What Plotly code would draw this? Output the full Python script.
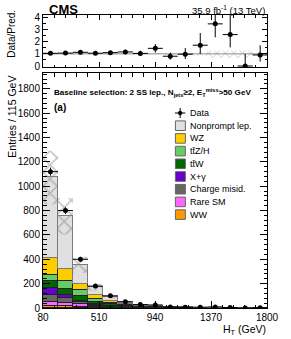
import numpy as np
import plotly.graph_objects as go

# ---------------- data ----------------
bin_lo = [80, 195, 310, 425, 540, 655, 770, 885, 1000, 1115, 1230, 1345, 1460, 1575, 1690]
bin_width = 115

# stacked backgrounds (bottom -> top)
ww        = [17, 14, 10, 6, 3, 2, 1, 0.8, 0.5, 0.3, 0.2, 0.1, 0.05, 0.05, 0.1]
rare_sm   = [33, 30, 20, 10, 6, 3, 2, 1.4, 1.0, 0.7, 0.4, 0.3, 0.2, 0.1, 0.3]
charge    = [55, 35, 18, 8, 4, 2, 1, 0.6, 0.4, 0.2, 0.1, 0.1, 0.05, 0.05, 0.1]
x_gamma   = [60, 25, 12, 7, 4, 2, 1, 0.6, 0.4, 0.3, 0.2, 0.1, 0.05, 0.05, 0.1]
ttw       = [55, 50, 40, 22, 14, 8, 5, 3.2, 2.2, 1.4, 0.8, 0.5, 0.3, 0.2, 0.7]
ttzh      = [47, 65, 45, 20, 12, 7, 5, 3.2, 2.1, 1.4, 0.8, 0.5, 0.3, 0.2, 0.7]
wz        = [145, 105, 55, 30, 16, 8, 5, 3.2, 2.0, 1.3, 0.8, 0.5, 0.3, 0.2, 0.6]
nonprompt = [660, 430, 155, 68, 32, 13, 7, 4.2, 2.6, 1.6, 0.8, 0.5, 0.3, 0.15, 0.7]

pred_unc  = [220, 150, 65, 28, 14, 8, 5, 3, 2, 1.5, 1, 0.8, 0.6, 0.5, 0.8]

data        = [1120, 800, 400, 180, 100, 52, 28, 25, 9, 7, 7, 9, 4, 0, 3]
data_err_up = [33, 28, 20, 13, 10, 7, 5.3, 5, 3, 2.6, 2.6, 3, 2, 1.8, 1.7]
data_err_dn = [33, 28, 20, 13, 10, 7, 5.3, 5, 3, 2.6, 2.6, 3, 2, 0, 1.7]

ratio_err_up = [0.04, 0.05, 0.07, 0.09, 0.12, 0.18, 0.22, 0.35, 0.3, 0.5, 1.0, 1.2, 1.6, 1.0, 0.8]
ratio_err_dn = [0.04, 0.05, 0.07, 0.09, 0.12, 0.18, 0.22, 0.35, 0.28, 0.4, 0.7, 1.1, 1.05, 0.0, 0.55]
ratio_band   = [0.06, 0.06, 0.06, 0.06, 0.06, 0.06, 0.06, 0.06, 0.06, 0.07, 0.15, 0.3, 0.3, 0.3, 0.15]

x_ticks = [80, 510, 940, 1370, 1800]

components = [
    ("WW", ww, "#ff9900"),
    ("Rare SM", rare_sm, "#ff66ff"),
    ("Charge misid.", charge, "#666666"),
    ("X+γ", x_gamma, "#6600cc"),
    ("tt̄W", ttw, "#006600"),
    ("tt̄Z/H", ttzh, "#66cc66"),
    ("WZ", wz, "#ffcc00"),
    ("Nonprompt lep.", nonprompt, "#e0e0e0"),
]
legend_names = ["Data", "Nonprompt lep.", "WZ", "tt̄Z/H", "tt̄W", "X+γ", "Charge misid.", "Rare SM", "WW"]
legend_colors = [None, "#e0e0e0", "#ffcc00", "#66cc66", "#006600", "#6600cc", "#666666", "#ff66ff", "#ff9900"]

# ---------------- derived ----------------
lo = np.array(bin_lo, dtype=float)
centers = lo + bin_width / 2
half = np.full(len(lo), bin_width / 2)
pred = np.sum([np.array(c[1], dtype=float) for c in components], axis=0)
ratio = np.array(data, dtype=float) / pred

FONT = "Liberation Sans, Arial, Helvetica, sans-serif"
W, H = 291, 339
ML, MR, MT, MB = 43, 12, 15, 31
PW, PH = W - ML - MR, H - MT - MB


def px(xp):
    return (xp - ML) / PW


def py(yp):
    return (H - MB - yp) / PH


fig = go.Figure()

for name, vals, col in components:
    edge = "#7a7a7a" if name == "Nonprompt lep." else "#222222"
    fig.add_trace(go.Bar(
        x=centers, y=vals, width=[bin_width] * len(lo), name=name,
        marker=dict(color=col, line=dict(color=edge, width=1)),
        xaxis="x", yaxis="y", showlegend=False,
    ))


def band_poly(center_vals, unc):
    xs, ys = [], []
    for l, c, u in zip(lo, center_vals, unc):
        h = l + bin_width
        xs += [l, h, h, l, l, None]
        ys += [c - u, c - u, c + u, c + u, c - u, None]
    return xs, ys


hx, hy = band_poly(pred, pred_unc)
fig.add_trace(go.Scatter(
    x=hx, y=hy, mode="lines", fill="toself", line=dict(width=0, color="rgba(0,0,0,0)"),
    fillcolor="rgba(0,0,0,0)",
    fillpattern=dict(shape="x", fgcolor="#888888", bgcolor="rgba(0,0,0,0)", size=10, solidity=0.28),
    xaxis="x", yaxis="y", showlegend=False, hoverinfo="skip",
))

fig.add_trace(go.Scatter(
    x=centers, y=data, mode="markers", name="Data",
    marker=dict(color="black", size=5),
    error_y=dict(type="data", array=data_err_up, arrayminus=data_err_dn, color="black", thickness=1, width=0),
    error_x=dict(type="data", array=half, color="black", thickness=1, width=0),
    xaxis="x", yaxis="y", showlegend=False,
))

# ratio panel
rx, ry = band_poly(np.ones(len(lo)), ratio_band)
fig.add_trace(go.Scatter(
    x=rx, y=ry, mode="lines", fill="toself", line=dict(width=0, color="rgba(0,0,0,0)"),
    fillcolor="rgba(0,0,0,0)",
    fillpattern=dict(shape="x", fgcolor="#8a8a8a", bgcolor="rgba(0,0,0,0)", size=6, solidity=0.25),
    xaxis="x2", yaxis="y2", showlegend=False, hoverinfo="skip",
))
fig.add_trace(go.Scatter(
    x=centers, y=ratio, mode="markers",
    marker=dict(color="black", size=5),
    error_y=dict(type="data", array=ratio_err_up, arrayminus=ratio_err_dn, color="black", thickness=1, width=0),
    error_x=dict(type="data", array=half, color="black", thickness=1, width=0),
    xaxis="x2", yaxis="y2", showlegend=False, cliponaxis=True,
))

axis_common = dict(
    showline=True, linecolor="black", linewidth=1, mirror="allticks",
    ticks="inside", tickcolor="black", tickwidth=1, showgrid=False, zeroline=False,
    tickfont=dict(family=FONT, size=10, color="black"),
)

fig.update_layout(
    width=W, height=H, margin=dict(l=ML, r=MR, t=MT, b=MB),
    paper_bgcolor="white", plot_bgcolor="white",
    barmode="stack", bargap=0, showlegend=False,
    font=dict(family=FONT, color="black"),
    xaxis=dict(domain=[0, 1], anchor="y", range=[80, 1800], tickvals=x_ticks, ticklen=7,
               minor=dict(dtick=86, tick0=80, ticklen=3.5, ticks="inside", tickcolor="black"),
               **axis_common),
    yaxis=dict(domain=[0, py(73)], anchor="x", range=[0, 1930], dtick=200, ticklen=7,
               minor=dict(dtick=40, ticklen=3.5, ticks="inside", tickcolor="black"),
               **axis_common),
    xaxis2=dict(domain=[0, 1], anchor="y2", matches="x", range=[80, 1800], tickvals=x_ticks,
                showticklabels=False, ticklen=5,
                minor=dict(dtick=86, tick0=80, ticklen=2.5, ticks="inside", tickcolor="black"),
                **axis_common),
    yaxis2=dict(domain=[py(67), 1], anchor="x2", range=[-0.08, 4.19], tickvals=[0, 1, 2, 3, 4], ticklen=5,
                minor=dict(dtick=0.5, ticklen=2.5, ticks="inside", tickcolor="black"),
                **axis_common),
)

fig.add_shape(type="line", xref="x2", yref="y2", x0=80, x1=1800, y0=1, y1=1,
              line=dict(color="#8c8c8c", width=1), layer="below")

ann = []
ann.append(dict(text="<b>CMS</b>", x=px(47), y=py(10), xanchor="left", yanchor="middle",
                font=dict(size=13, family=FONT)))
ann.append(dict(text="35.9 fb<sup>-1</sup> (13 TeV)", x=px(279), y=py(10), xanchor="right", yanchor="middle",
                font=dict(size=9.5, family=FONT)))
ann.append(dict(text="Data/Pred.", x=px(10), y=py(34), xanchor="center", yanchor="middle", textangle=-90,
                font=dict(size=10, family=FONT)))
ann.append(dict(text="Entries / 115 GeV", x=px(10), y=py(74), xanchor="center", yanchor="top", textangle=-90,
                font=dict(size=10.5, family=FONT)))
ann.append(dict(text="H<sub>T</sub> (GeV)", x=px(280), y=py(330), xanchor="right", yanchor="middle",
                font=dict(size=10.5, family=FONT)))
ann.append(dict(text="<b>Baseline selection: 2 SS lep., N<sub>jets</sub>≥2, E<sub>T</sub><sup>miss</sup>>50 GeV</b>",
                x=px(52), y=py(93), xanchor="left", yanchor="middle", font=dict(size=8.1, family=FONT)))
ann.append(dict(text="<b>(a)</b>", x=px(53), y=py(108), xanchor="left", yanchor="middle",
                font=dict(size=10, family=FONT)))

# manual legend
step = 12.7
for i, (nm, col) in enumerate(zip(legend_names, legend_colors)):
    yc = 113 + step * i
    if col is None:
        fig.add_shape(type="line", xref="paper", yref="paper", x0=px(182), x1=px(193), y0=py(yc), y1=py(yc),
                      line=dict(color="black", width=1))
        fig.add_shape(type="line", xref="paper", yref="paper", x0=px(187.5), x1=px(187.5), y0=py(yc - 5), y1=py(yc + 5),
                      line=dict(color="black", width=1))
        fig.add_shape(type="circle", xref="paper", yref="paper", x0=px(185.5), x1=px(189.5), y0=py(yc - 2), y1=py(yc + 2),
                      fillcolor="black", line=dict(color="black", width=0.5))
    else:
        fig.add_shape(type="rect", xref="paper", yref="paper", x0=px(182.5), x1=px(193), y0=py(yc - 4.8), y1=py(yc + 4.8),
                      fillcolor=col, line=dict(color="#666666", width=1))
    ann.append(dict(text=nm, x=px(196), y=py(yc), xanchor="left", yanchor="middle",
                    font=dict(size=9.0, family=FONT)))

for a in ann:
    a.update(xref="paper", yref="paper", showarrow=False)
    fig.add_annotation(**a)

fig.write_html("out.html", config={"displayModeBar": False},
               post_script="document.body.style.margin='0';document.body.style.overflow='hidden';")
